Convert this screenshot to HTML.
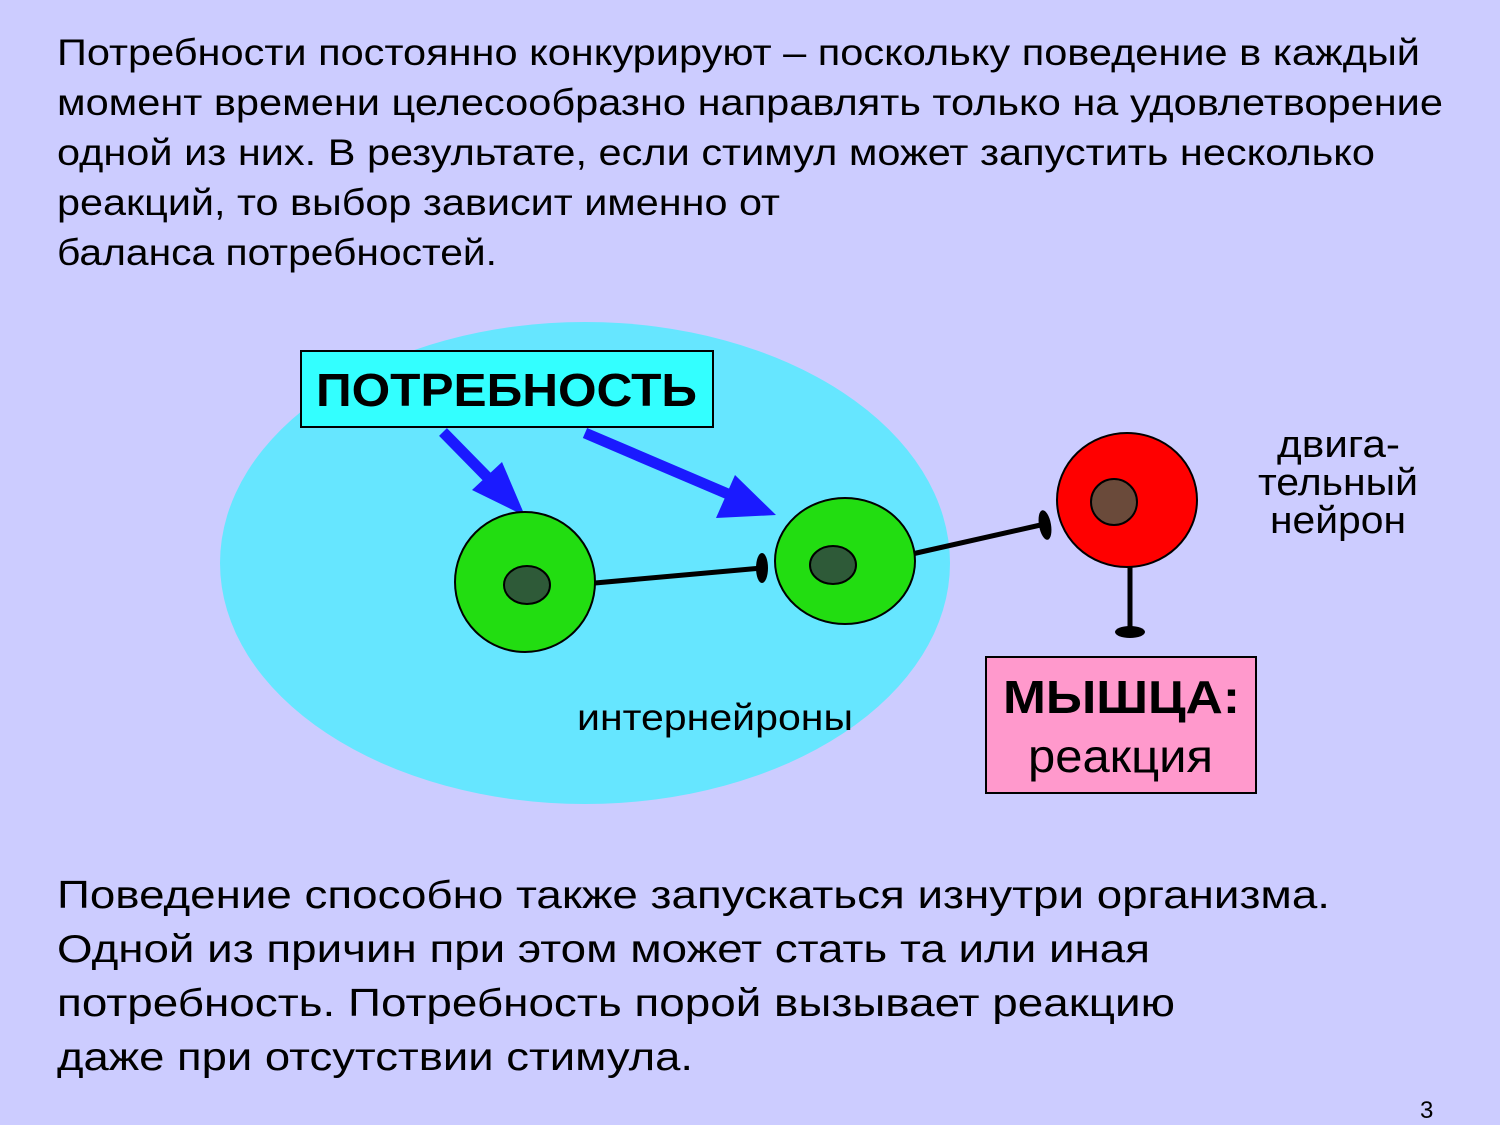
<!DOCTYPE html>
<html><head><meta charset="utf-8"><style>
html,body{margin:0;padding:0;background:#CCCCFF;}
svg{display:block;}
text{font-family:"Liberation Sans","DejaVu Sans",sans-serif;fill:#000;}
</style></head><body>
<svg width="1500" height="1125" viewBox="0 0 1500 1125" xmlns="http://www.w3.org/2000/svg">
<rect width="1500" height="1125" fill="#CCCCFF"/>
<g font-size="37" lengthAdjust="spacingAndGlyphs">
<text x="57" y="65" textLength="1363" lengthAdjust="spacingAndGlyphs">Потребности постоянно конкурируют – поскольку поведение в каждый</text>
<text x="57" y="115" textLength="1386" lengthAdjust="spacingAndGlyphs">момент времени целесообразно направлять только на удовлетворение</text>
<text x="57" y="165" textLength="1318" lengthAdjust="spacingAndGlyphs">одной из них. В результате, если стимул может запустить несколько</text>
<text x="57" y="215" textLength="723" lengthAdjust="spacingAndGlyphs">реакций, то выбор зависит именно от</text>
<text x="57" y="265" textLength="440" lengthAdjust="spacingAndGlyphs">баланса потребностей.</text>
</g>
<ellipse cx="585" cy="563" rx="365" ry="241" fill="#66E6FF"/>
<rect x="301" y="351" width="412" height="76" fill="#33FFFF" stroke="#000" stroke-width="2"/>
<text x="316" y="406" font-size="46" font-weight="bold" textLength="381" lengthAdjust="spacingAndGlyphs">ПОТРЕБНОСТЬ</text>
<line x1="443" y1="432" x2="495" y2="485" stroke="#1a1aff" stroke-width="11"/>
<polygon points="525,516 472,490 502,462" fill="#1a1aff"/>
<line x1="585" y1="433" x2="735" y2="497" stroke="#1a1aff" stroke-width="11"/>
<polygon points="776,515 716,518 735,475" fill="#1a1aff"/>
<line x1="595" y1="583" x2="762" y2="568" stroke="#000" stroke-width="5"/>
<ellipse cx="762" cy="568" rx="6" ry="15" fill="#000"/>
<line x1="912" y1="554" x2="1045" y2="524" stroke="#000" stroke-width="5"/>
<ellipse cx="1045" cy="525" rx="6" ry="15" fill="#000" transform="rotate(-10 1045 525)"/>
<line x1="1130" y1="565" x2="1130" y2="630" stroke="#000" stroke-width="5"/>
<ellipse cx="1130" cy="632" rx="15" ry="6" fill="#000"/>
<ellipse cx="525" cy="582" rx="70" ry="70" fill="#22DD11" stroke="#000" stroke-width="2"/>
<ellipse cx="527" cy="585" rx="23" ry="19" fill="#2E5A38" stroke="#000" stroke-width="2"/>
<ellipse cx="845" cy="561" rx="70" ry="63" fill="#22DD11" stroke="#000" stroke-width="2"/>
<ellipse cx="833" cy="565" rx="23" ry="19" fill="#2E5A38" stroke="#000" stroke-width="2"/>
<ellipse cx="1127" cy="500" rx="70" ry="67" fill="#FF0000" stroke="#000" stroke-width="2"/>
<circle cx="1114" cy="502" r="23" fill="#6A4A3A" stroke="#000" stroke-width="2"/>
<g font-size="38">
<text x="1277" y="457" textLength="123" lengthAdjust="spacingAndGlyphs">двига-</text>
<text x="1258" y="495" textLength="160" lengthAdjust="spacingAndGlyphs">тельный</text>
<text x="1270" y="533" textLength="136" lengthAdjust="spacingAndGlyphs">нейрон</text>
</g>
<text x="577" y="730" font-size="37" textLength="276" lengthAdjust="spacingAndGlyphs">интернейроны</text>
<rect x="986" y="657" width="270" height="136" fill="#FF99CC" stroke="#000" stroke-width="2"/>
<text x="1003" y="713" font-size="46" font-weight="bold" textLength="237" lengthAdjust="spacingAndGlyphs">МЫШЦА:</text>
<text x="1028" y="772" font-size="46" textLength="185" lengthAdjust="spacingAndGlyphs">реакция</text>
<g font-size="39">
<text x="57" y="908" textLength="1273" lengthAdjust="spacingAndGlyphs">Поведение способно также запускаться изнутри организма.</text>
<text x="57" y="962" textLength="1093" lengthAdjust="spacingAndGlyphs">Одной из причин при этом может стать та или иная</text>
<text x="57" y="1016" textLength="1118" lengthAdjust="spacingAndGlyphs">потребность. Потребность порой вызывает реакцию</text>
<text x="57" y="1070" textLength="636" lengthAdjust="spacingAndGlyphs">даже при отсутствии стимула.</text>
</g>
<text x="1420" y="1118" font-size="24">3</text>
</svg>
</body></html>
